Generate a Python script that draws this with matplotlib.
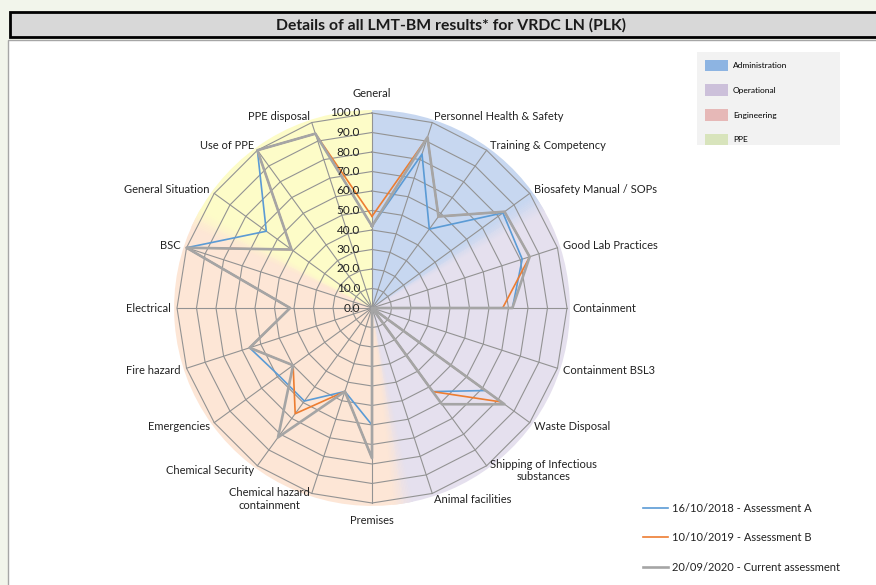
import numpy as np
import matplotlib
matplotlib.use("Agg")
import matplotlib.pyplot as plt
from matplotlib.patches import Rectangle, Patch
from matplotlib.colors import to_rgb
import matplotlib.transforms as mtransforms

plt.rcParams['font.family'] = ['Lato', 'DejaVu Sans']

# ---------------- data ----------------
title = "Details of all LMT-BM results* for VRDC LN (PLK)"
categories = ["General", "Personnel Health & Safety", "Training & Competency",
              "Biosafety Manual / SOPs", "Good Lab Practices", "Containment",
              "Containment BSL3", "Waste Disposal", "Shipping of Infectious\nsubstances",
              "Animal facilities", "Premises", "Chemical hazard\ncontainment",
              "Chemical Security", "Emergencies", "Fire hazard", "Electrical", "BSC",
              "General Situation", "Use of PPE", "PPE disposal"]
series_names = ["16/10/2018 - Assessment A", "10/10/2019 - Assessment B",
                "20/09/2020 - Current assessment"]
assessment_a = [42, 83, 50, 83, 81, 72, 0, 72, 53, 0, 60, 45, 59, 59, 66, 42, 100, 67, 100, 94]
assessment_b = [47, 92, 58, 84, 85, 67, 0, 82, 53, 0, 77, 45, 67, 50, 66, 42, 100, 51, 100, 94]
current = [42, 92, 58, 84, 85, 72, 0, 84, 61, 0, 77, 45, 82, 50, 66, 42, 100, 51, 100, 94]
radial_ticks = [0, 10, 20, 30, 40, 50, 60, 70, 80, 90, 100]
group_names = ["Administration", "Operational", "Engineering", "PPE"]
group_start_deg = [0, 58, 171, 297]
group_end_deg = [58, 171, 297, 360]

# ---------------- style ----------------
series_colors = ["#5b9bd5", "#ed7d31", "#a5a5a5"]
series_widths = [1.2, 1.2, 1.9]
group_bg = ["#c7d7f0", "#e5e0ee", "#fde6d6", "#fdfcc8"]
group_legend = ["#8db4e2", "#ccc0da", "#e6b8b7", "#d8e4bc"]
grid_color = "#939393"
blend_half = 3.0  # degrees of soft transition between background wedges

W, H = 876, 585
fig = plt.figure(figsize=(W / 100, H / 100), dpi=100)
fig.patch.set_facecolor("#f2f5eb")

# chart area frame
fig.patches.append(Rectangle((8 / W, -0.02), 1.0, 1 - 40 / H + 0.02, transform=fig.transFigure,
                             facecolor="white", edgecolor="#a6a6a6", linewidth=1.0, zorder=-10))
# title box
fig.patches.append(Rectangle((10 / W, 1 - 37 / H), 1.0, 25 / H, transform=fig.transFigure,
                             facecolor="#d8d8d8", edgecolor="black", linewidth=2.0, zorder=-10))
fig.text(451 / W, 1 - 25 / H, title, ha="center", va="center", fontsize=11.3,
         fontweight="bold", color="#1a1a1a")
# group legend background
fig.patches.append(Rectangle((697 / W, 1 - 145 / H), 143 / W, 93 / H, transform=fig.transFigure,
                             facecolor="#f2f2f2", edgecolor="none", zorder=-5))

# polar axes
rmax = 104.0
cx, cy, R = 372, 308, 195 * rmax / 100
ax = fig.add_axes([(cx - R) / W, 1 - (cy + R) / H, 2 * R / W, 2 * R / H], projection="polar")
ax.set_zorder(1)
ax.set_theta_zero_location("N")
ax.set_theta_direction(-1)
ax.set_ylim(0, rmax)
ax.patch.set_visible(False)
ax.spines["polar"].set_visible(False)
ax.grid(False)
ax.set_xticks([])
ax.set_yticks([])

n = len(categories)
angles = np.deg2rad(np.arange(n) * 360.0 / n)

# background wedges (with soft transitions except at 0 deg)
bg_r = 101.5
for s, e, c in zip(group_start_deg, group_end_deg, group_bg):
    ax.bar(np.deg2rad(s), bg_r, width=np.deg2rad(e - s), bottom=0, align="edge",
           color=c, edgecolor="none", zorder=0)
for i in range(1, len(group_start_deg)):
    b = group_start_deg[i]
    c0 = np.array(to_rgb(group_bg[i - 1]))
    c1 = np.array(to_rgb(group_bg[i]))
    steps = 12
    edges = np.linspace(b - blend_half, b + blend_half, steps + 1)
    for k in range(steps):
        f = (k + 0.5) / steps
        ax.bar(np.deg2rad(edges[k]), bg_r, width=np.deg2rad(edges[k + 1] - edges[k]) * 1.05,
               bottom=0, align="edge", color=c0 * (1 - f) + c1 * f, edgecolor="none",
               zorder=0.5)

# polygon grid
closed = np.append(angles, angles[0])
for v in radial_ticks[1:]:
    ax.plot(closed, [v] * (n + 1), color=grid_color, lw=0.8, zorder=1)
for a in angles:
    ax.plot([a, a], [0, radial_ticks[-1]], color=grid_color, lw=0.8, zorder=1)

# series
handles = []
for vals, col, lw, name in zip([assessment_a, assessment_b, current], series_colors,
                               series_widths, series_names):
    h, = ax.plot(closed, np.append(vals, vals[0]), color=col, lw=lw, zorder=3, label=name)
    handles.append(h)

# radial labels
off = mtransforms.offset_copy(ax.transData, fig=fig, x=-12, y=0, units="dots")
for v in radial_ticks:
    ax.text(0, v, f"{v:.1f}", transform=off, ha="right", va="center", fontsize=8.5,
            color="#222222", zorder=4)

# category labels
for a, lab in zip(np.rad2deg(angles), categories):
    th = np.deg2rad(a)
    if a == 0:
        ax.text(th, 107, lab, ha="center", va="bottom", fontsize=8, color="#222222")
    elif a == 180:
        ax.text(th, 106, lab, ha="center", va="top", fontsize=8, color="#222222")
    elif a < 180:
        ax.text(th, 103, lab, ha="left", va="center", fontsize=8, color="#222222",
                multialignment="center")
    else:
        ax.text(th, 103, lab, ha="right", va="center", fontsize=8, color="#222222",
                multialignment="center")

# group legend
ghandles = [Patch(facecolor=c, edgecolor="none") for c in group_legend]
leg1 = fig.legend(ghandles, group_names, loc="upper left", bbox_to_anchor=(697 / W, 1 - 52 / H),
                  borderaxespad=0, fontsize=6, handlelength=2.8, handleheight=1.8,
                  labelspacing=1.55, handletextpad=0.6, borderpad=0.9, frameon=False)

leg2 = fig.legend(handles, series_names, loc="upper left", bbox_to_anchor=(643 / W, 1 - 503 / H),
                  borderaxespad=0, borderpad=0, fontsize=8, handlelength=2.25,
                  handletextpad=0.35, labelspacing=1.65, frameon=False)
for t in leg2.get_texts():
    t.set_color("#222222")

fig.savefig("out.png", dpi=100, facecolor=fig.get_facecolor())
